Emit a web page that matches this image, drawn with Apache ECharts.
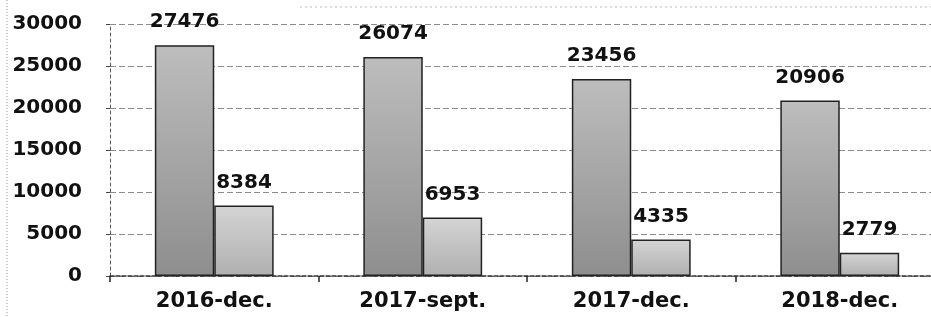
<!DOCTYPE html>
<html>
<head>
<meta charset="utf-8">
<script src="https://cdn.jsdelivr.net/npm/echarts@6/dist/echarts.min.js"></script>
<style>html,body{margin:0;padding:0;background:#fff;}#c{width:931px;height:317px;}</style>
</head>
<body>
<div id="c"></div>
<script>
const categories = ['2016-dec.', '2017-sept.', '2017-dec.', '2018-dec.'];
const seriesA = [27476, 26074, 23456, 20906];
const seriesB = [8384, 6953, 4335, 2779];
const yMin = 0, yMax = 30000, yInterval = 5000;

const chart = echarts.init(document.getElementById('c'), null, {renderer: 'canvas'});
const font = 'DejaVu Sans, Verdana, sans-serif';
const labelStyle = {show: true, position: 'top', distance: 13, fontFamily: font, fontWeight: 'bold', fontSize: 20, color: '#111'};
chart.setOption({
  animation: false,
  backgroundColor: '#fff',
  grid: {left: 110, top: 24, right: -13, bottom: 41, containLabel: false, outerBoundsMode: 'none'},
  xAxis: {
    type: 'category', data: categories,
    axisLine: {lineStyle: {color: '#333', width: 1.5, type: [4, 2]}},
    axisTick: {show: true, length: 6, lineStyle: {color: '#222', width: 1.5}},
    axisLabel: {fontFamily: font, fontWeight: 'bold', fontSize: 21, color: '#111', margin: 15},
    splitLine: {show: false}
  },
  yAxis: {
    type: 'value', min: yMin, max: yMax, interval: yInterval,
    axisLine: {show: true, lineStyle: {color: '#555', width: 1, type: [3, 3]}},
    axisTick: {show: true, length: 4, lineStyle: {color: '#444'}},
    axisLabel: {fontFamily: font, fontWeight: 'bold', fontSize: 20, color: '#111', margin: 28,
      formatter: v => String(v)},
    splitLine: {show: true, lineStyle: {color: '#666', width: 1, type: [6, 3], opacity: 0.75}}
  },
  series: [
    {
      type: 'bar', data: seriesA, barGap: '0%', barCategoryGap: '43%',
      itemStyle: {
        color: {type: 'linear', x: 0, y: 0, x2: 0, y2: 1, colorStops: [
          {offset: 0, color: '#bdbdbd'}, {offset: 1, color: '#8e8e8e'}]},
        borderColor: '#222', borderWidth: 1.5
      },
      label: labelStyle
    },
    {
      type: 'bar', data: seriesB,
      itemStyle: {
        color: {type: 'linear', x: 0, y: 0, x2: 0, y2: 1, colorStops: [
          {offset: 0, color: '#d4d4d4'}, {offset: 1, color: '#b0b0b0'}]},
        borderColor: '#222', borderWidth: 1.5
      },
      label: labelStyle
    }
  ],
  graphic: [
    {type: 'line', shape: {x1: 7, y1: 0, x2: 7, y2: 317}, style: {stroke: '#999', lineWidth: 1, lineDash: [1, 2]}},
    {type: 'line', shape: {x1: 300, y1: 7, x2: 931, y2: 7}, style: {stroke: '#bbb', lineWidth: 1, lineDash: [2, 3]}}
  ]
});
</script>
</body>
</html>
